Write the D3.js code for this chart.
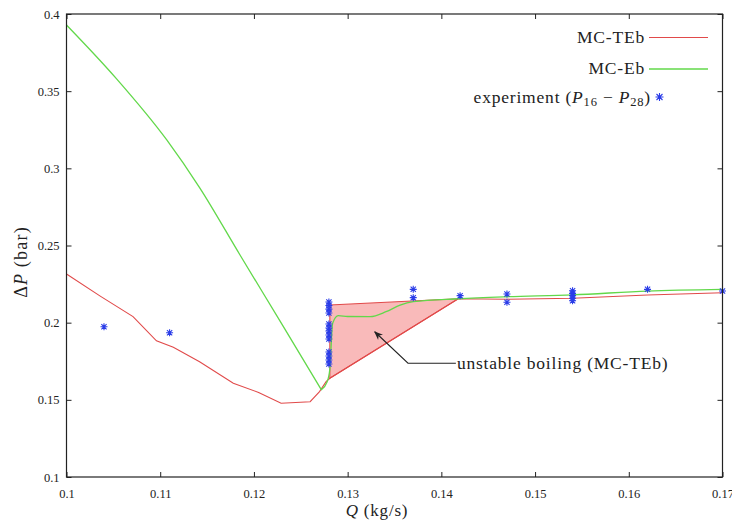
<!DOCTYPE html>
<html><head><meta charset="utf-8">
<script src="https://cdn.jsdelivr.net/npm/d3@7"></script>
<style>body{margin:0;background:#fff}svg{display:block}svg text{fill:#222}</style>
</head><body>
<script>
// MC-TEb (red) curve
const tebQ  = [0.1,0.1036,0.1071,0.1096,0.1114,0.1142,0.1178,0.1205,0.1229,0.1260,0.1270,0.1277,0.1281,0.1418,0.147,0.154,0.162,0.17];
const tebDP = [0.2315,0.2172,0.2039,0.1882,0.1840,0.1747,0.1607,0.1548,0.1478,0.1488,0.1553,0.1618,0.1640,0.2155,0.2152,0.2158,0.2179,0.2194];
// MC-TEb unstable branch (upper edge of the loop)
const loopQ  = [0.1281,0.1281,0.1418];
const loopDP = [0.1640,0.2114,0.2155];
// MC-Eb (green) curve
const ebQ  = [0.1,0.1053,0.1107,0.1142,0.1185,0.1230,0.1272,0.1278,0.1281,0.1284,0.1290,0.1300,0.1324,0.1341,0.1356,0.137,0.1418,0.147,0.154,0.162,0.17];
const ebDP = [0.3929,0.3583,0.3184,0.2875,0.2440,0.1989,0.1565,0.1615,0.1700,0.1996,0.2045,0.2040,0.2039,0.2071,0.2114,0.2136,0.2155,0.2168,0.2180,0.2205,0.2216];
// experiment (P16 - P28)
const expQ  = [0.104,0.111,0.128,0.128,0.128,0.128,0.128,0.128,0.128,0.128,0.128,0.128,0.128,0.128,0.128,0.137,0.137,0.142,0.147,0.147,0.154,0.154,0.154,0.154,0.154,0.162,0.17];
const expDP = [0.1974,0.1935,0.2134,0.2111,0.2088,0.2063,0.1991,0.1965,0.1946,0.1920,0.1894,0.1810,0.1784,0.1758,0.1732,0.2216,0.2162,0.2175,0.2186,0.2132,0.2207,0.2190,0.2175,0.2158,0.2142,0.2216,0.2205];
// ticks
const xTicks = [0.1,0.11,0.12,0.13,0.14,0.15,0.16,0.17];
const yTicks = [0.1,0.15,0.2,0.25,0.3,0.35,0.4];
const xTickLabels = ["0.1","0.11","0.12","0.13","0.14","0.15","0.16","0.17"];
const yTickLabels = ["0.1","0.15","0.2","0.25","0.3","0.35","0.4"];
// annotation (data coords): arrow tip, elbow
const annTip = [0.13289,0.1941];
const annElbow = [0.13644,0.1737];
const annTextQ = 0.14155;

const W=732,H=523;
const FONT='"Liberation Serif","DejaVu Serif",serif';
const RED="#e14a4a", GREEN="#62d84a", FILL="#f9baba", BLUE="#2b3de8";
const x=d3.scaleLinear().domain([0.1,0.17]).range([66.5,722.5]);
const y=d3.scaleLinear().domain([0.1,0.4]).range([477,14]);
const svg=d3.select("body").append("svg").attr("width",W).attr("height",H).attr("font-family",FONT);

const zip=(a,b)=>a.map((v,i)=>[v,b[i]]);
const line=d3.line().x(d=>x(d[0])).y(d=>y(d[1]));
const smooth=d3.line().x(d=>x(d[0])).y(d=>y(d[1])).curve(d3.curveMonotoneX);

// unstable region fill
svg.append("path").attr("d",line(zip(loopQ,loopDP))+"Z")
  .attr("fill",FILL).attr("stroke",RED).attr("stroke-width",1.1);

svg.append("path").attr("d",line(zip(tebQ,tebDP))).attr("fill","none").attr("stroke",RED).attr("stroke-width",1.1);
// green: smooth pieces on each side of its minimum (sharp corner at the minimum)
const eb=zip(ebQ,ebDP);
const iMin=d3.minIndex(ebDP);
svg.append("path").attr("d",smooth(eb.slice(0,iMin+1))+smooth(eb.slice(iMin)).replace(/^M/,"L"))
  .attr("fill","none").attr("stroke",GREEN).attr("stroke-width",1.3).attr("stroke-linejoin","round");

// star markers
function star(g,cx,cy,r){
  const p=`M${cx-r},${cy}H${cx+r}M${cx},${cy-r}V${cy+r}M${cx-r*0.75},${cy-r*0.75}L${cx+r*0.75},${cy+r*0.75}M${cx-r*0.75},${cy+r*0.75}L${cx+r*0.75},${cy-r*0.75}`;
  g.append("path").attr("d",p).attr("stroke",BLUE).attr("stroke-width",1.1).attr("fill","none");
}
const sg=svg.append("g");
zip(expQ,expDP).forEach(d=>star(sg,x(d[0]),y(d[1]),3.5));

// axes
const fx=d=>xTickLabels[xTicks.indexOf(d)];
const fy=d=>yTickLabels[yTicks.indexOf(d)];
const gb=svg.append("g").attr("transform","translate(0,477)").call(d3.axisBottom(x).tickValues(xTicks).tickSizeInner(-5).tickSizeOuter(0).tickPadding(12.5).tickFormat(fx));
const gt=svg.append("g").attr("transform","translate(0,14)").call(d3.axisTop(x).tickValues(xTicks).tickSizeInner(-5).tickSizeOuter(0).tickFormat(""));
const gl=svg.append("g").attr("transform","translate(66.5,0)").call(d3.axisLeft(y).tickValues(yTicks).tickSizeInner(-5).tickSizeOuter(0).tickPadding(7).tickFormat(fy));
const gr=svg.append("g").attr("transform","translate(722.5,0)").call(d3.axisRight(y).tickValues(yTicks).tickSizeInner(-5).tickSizeOuter(0).tickFormat(""));
[gb,gt,gl,gr].forEach(g=>{g.attr("font-family",FONT).attr("font-size",12.5);g.select(".domain").remove();g.selectAll("line").attr("stroke","#222");g.selectAll("text").attr("fill","#222");});
svg.append("rect").attr("x",66.5).attr("y",14).attr("width",656).attr("height",463).attr("fill","none").attr("stroke","#222").attr("stroke-width",1.2);

// axis titles
const xt=svg.append("text").attr("x",377).attr("y",516).attr("text-anchor","middle").attr("font-size",17).attr("letter-spacing",0.8);
xt.append("tspan").attr("font-style","italic").text("Q");
xt.append("tspan").text(" (kg/s)");
const yt=svg.append("text").attr("transform","translate(27,262) rotate(-90)").attr("text-anchor","middle").attr("font-size",18).attr("letter-spacing",1.2);
yt.append("tspan").text("Δ");
yt.append("tspan").attr("font-style","italic").text("P");
yt.append("tspan").text(" (bar)");

// legend
const lg=svg.append("g").attr("font-size",17.5).attr("letter-spacing",0.8);
lg.append("text").attr("x",645).attr("y",43).attr("text-anchor","end").text("MC-TEb");
lg.append("line").attr("x1",649).attr("x2",708).attr("y1",37.5).attr("y2",37.5).attr("stroke",RED).attr("stroke-width",1.1);
lg.append("text").attr("x",645).attr("y",74).attr("text-anchor","end").text("MC-Eb");
lg.append("line").attr("x1",649).attr("x2",708).attr("y1",69).attr("y2",69).attr("stroke",GREEN).attr("stroke-width",1.3);
const et=lg.append("text").attr("x",651).attr("y",103).attr("text-anchor","end");
et.append("tspan").text("experiment (");
et.append("tspan").attr("font-style","italic").text("P");
et.append("tspan").attr("font-size",12.5).attr("dy",3).text("16");
et.append("tspan").attr("dy",-3).text(" − ");
et.append("tspan").attr("font-style","italic").text("P");
et.append("tspan").attr("font-size",12.5).attr("dy",3).text("28");
et.append("tspan").attr("dy",-3).text(")");
star(lg,659.5,97,4);

// annotation
const tip=[x(annTip[0]),y(annTip[1])], el=[x(annElbow[0]),y(annElbow[1])], tx=x(annTextQ);
svg.append("defs").append("marker").attr("id","ah").attr("viewBox","0 0 10 10").attr("refX",9).attr("refY",5)
  .attr("markerWidth",9).attr("markerHeight",9).attr("orient","auto-start-reverse").attr("markerUnits","userSpaceOnUse")
  .append("path").attr("d","M0,1L10,5L0,9L3,5Z").attr("fill","#222");
svg.append("path").attr("d",`M${tx},${el[1]}H${el[0]}L${tip[0]},${tip[1]}`).attr("fill","none").attr("stroke","#222").attr("stroke-width",1.1).attr("marker-end","url(#ah)");
svg.append("text").attr("x",tx+1).attr("y",el[1]+6).attr("font-size",17.5).attr("letter-spacing",0.8).text("unstable boiling (MC-TEb)");
</script>
</body></html>
